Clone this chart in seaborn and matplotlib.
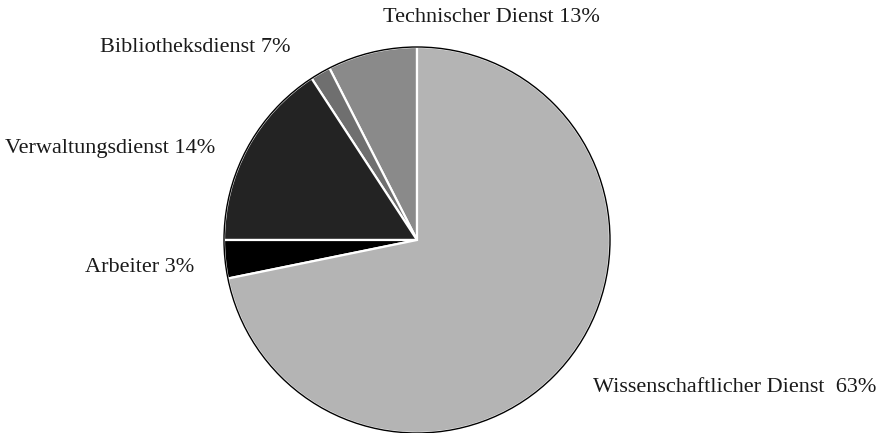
import seaborn as sns
import matplotlib.pyplot as plt
from matplotlib.patches import Circle

# slice sizes (percent of the circle), labels as printed
groups = ['Technischer Dienst', 'Bibliotheksdienst', 'Verwaltungsdienst', 'Arbeiter', 'Wissenschaftlicher Dienst']
shares = [7.5, 1.7, 15.8, 3.2, 71.8]
label_pcts = ['13%', '7%', '14%', '3%', '63%']
colors = ['#8a8a8a', '#6f6f6f', '#232323', '#000000', '#b4b4b4']

sns.set_style('white')
plt.rcParams['font.family'] = ['Liberation Serif', 'DejaVu Serif']

W, H = 879, 433
cx, cy, r = 417, 240, 193

fig = plt.figure(figsize=(W / 100, H / 100), dpi=100)
ax = fig.add_axes([0, 0, 1, 1])
wedges, _ = ax.pie(shares, colors=colors, startangle=90, counterclock=True,
                   wedgeprops={'edgecolor': 'white', 'linewidth': 1.6})
ax.add_patch(Circle((0, 0), 1, fill=False, edgecolor='black', linewidth=1.0))

# label anchors in pixels (left edge, vertical centre)
label_px = [(383, 18), (100, 47), (5, 148), (85, 268), (593, 388)]
for name, pct, (px, py) in zip(groups, label_pcts, label_px):
    sep = '  ' if name.startswith('Wissen') else ' '
    ax.text((px - cx) / r, (cy - py) / r, f'{name}{sep}{pct}', ha='left', va='center',
            fontsize=16, color='#1a1a1a')

ax.set_xlim(-cx / r, (W - cx) / r)
ax.set_ylim(-(H - cy) / r, cy / r)
ax.set_aspect('equal')
ax.axis('off')
fig.savefig('out.png', dpi=100)
